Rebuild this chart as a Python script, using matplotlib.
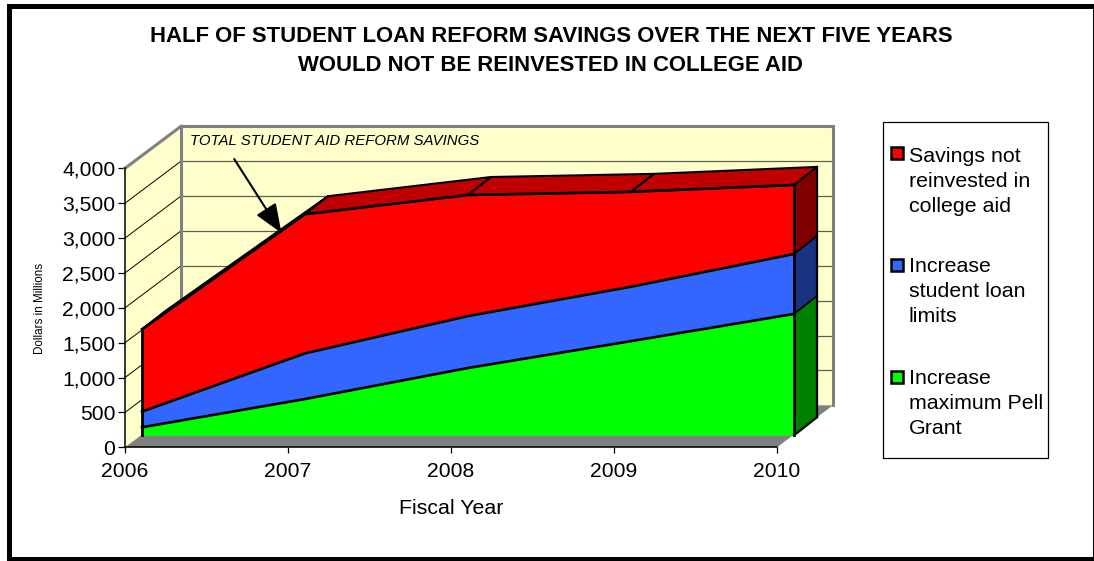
import numpy as np
import matplotlib
matplotlib.use("Agg")
import matplotlib.pyplot as plt
from matplotlib.patches import Polygon, Rectangle
from matplotlib.transforms import Affine2D

plt.rcParams["font.family"] = ["Liberation Sans", "DejaVu Sans"]

years = [2006, 2007, 2008, 2009, 2010]
pell_grant = [115, 520, 965, 1350, 1740]
loan_limits = [225, 655, 745, 780, 860]
not_reinvested = [1180, 1995, 1735, 1360, 990]
y_ticks = [0, 500, 1000, 1500, 2000, 2500, 3000, 3500, 4000]

title_lines = ["HALF OF STUDENT LOAN REFORM SAVINGS OVER THE NEXT FIVE YEARS",
               "WOULD NOT BE REINVESTED IN COLLEGE AID"]
legend_labels = [["Savings not", "reinvested in", "college aid"],
                 ["Increase", "student loan", "limits"],
                 ["Increase", "maximum Pell", "Grant"]]

front_colors = ["#00FF00", "#3366FF", "#FF0000"]
side_colors = ["#008000", "#1A3380", "#800000"]
top_color = "#C00000"
wall_color = "#FFFFCC"
grey = "#808080"

W, H = 1094, 561
fig = plt.figure(figsize=(W / 100, H / 100), dpi=100, facecolor="white")
ax = fig.add_axes([125 / W, (H - 447.3) / H, 652 / W, 279 / H])
ax.set_xlim(2006, 2010)
ax.set_ylim(0, 4000)
ax.patch.set_visible(False)

# top-down pixel coordinates for the page furniture
page = Affine2D().scale(1, -1).translate(0, H)


# the fake 3D look: everything behind the axis plane is shifted in pixels
def shifted(dx, dy):
    return ax.transData + Affine2D().translate(dx, dy)


wall = shifted(56, 42)
front = shifted(17, 12)
back = shifted(40, 30)


def to_pixels(x, y, trans):
    return trans.transform(np.column_stack([x, y]))


def poly(points, **kw):
    ax.add_patch(Polygon(points, transform=None, clip_on=False, **kw))


# walls and floor
poly(np.vstack([to_pixels([2006, 2006], [0, 4000], ax.transData),
                to_pixels([2006, 2006], [4000, 0], wall)]), fc=wall_color, ec="none", zorder=1)
poly(to_pixels([2006, 2010, 2010, 2006], [0, 0, 4000, 4000], wall), fc=wall_color, ec="none", zorder=1)
poly(np.vstack([to_pixels([2006, 2010], [0, 0], ax.transData),
                to_pixels([2010, 2006], [0, 0], wall)]), fc=grey, ec="none", zorder=1.5)

# gridlines across both walls
for v in y_ticks[1:-1]:
    ax.plot([2006, 2010], [v, v], transform=wall, color="#606050", lw=0.9, zorder=2, clip_on=False)
    side = to_pixels([2006, 2006], [v, v], ax.transData)
    side[1] = to_pixels([2006], [v], wall)[0]
    ax.plot(side[:, 0], side[:, 1], transform=None, color="black", lw=0.7, zorder=2, clip_on=False)

# grey outline of the walls
ax.plot([2006, 2006, 2010, 2010], [0, 4000, 4000, 0], transform=wall, color=grey, lw=2.2,
        zorder=2.2, clip_on=False, solid_joinstyle="miter")
outer = np.vstack([to_pixels([2006], [4000], ax.transData), to_pixels([2006], [4000], wall)])
ax.plot(outer[:, 0], outer[:, 1], transform=None, color=grey, lw=2.2, zorder=2.2, clip_on=False)

# stacked areas, lowest layer first
layers = [pell_grant, loan_limits, not_reinvested]
lower = np.zeros(len(years))
for values, fcolor, scolor in zip(layers, front_colors, side_colors):
    upper = lower + np.array(values)
    ax.fill_between(years, lower, upper, transform=front, color=fcolor, lw=0, zorder=3, clip_on=False)
    side_pts = np.vstack([to_pixels([2010, 2010], [lower[-1], upper[-1]], front),
                          to_pixels([2010, 2010], [upper[-1], lower[-1]], back)])
    poly(side_pts, fc=scolor, ec="none", zorder=3)
    ax.plot(years, upper, transform=front, color="black", lw=1.9, zorder=5, clip_on=False)
    edge = np.vstack([to_pixels([2010], [upper[-1]], front), to_pixels([2010], [upper[-1]], back)])
    ax.plot(edge[:, 0], edge[:, 1], transform=None, color="black", lw=1.3, zorder=5, clip_on=False)
    lower = upper

# sloped top of the red layer, one facet per year
for i in range(len(years) - 1):
    x0, x1 = years[i], years[i + 1]
    y0, y1 = lower[i], lower[i + 1]
    facet = np.vstack([to_pixels([x0, x1], [y0, y1], front), to_pixels([x1, x0], [y1, y0], back)])
    poly(facet, fc=top_color, ec="black", lw=1.5, zorder=4, joinstyle="miter")

# box edges of the solid
ax.plot([2006, 2006], [0, lower[0]], transform=front, color="black", lw=2.0, zorder=6, clip_on=False)
ax.plot([2010, 2010], [0, lower[-1]], transform=front, color="black", lw=2.0, zorder=6, clip_on=False)
ax.plot([2010, 2010], [0, lower[-1]], transform=back, color="black", lw=1.6, zorder=6, clip_on=False)
base = np.vstack([to_pixels([2010], [0], front), to_pixels([2010], [0], back)])
ax.plot(base[:, 0], base[:, 1], transform=None, color="black", lw=1.6, zorder=6, clip_on=False)

# axes
for name in ("top", "right"):
    ax.spines[name].set_visible(False)
for name in ("left", "bottom"):
    ax.spines[name].set_linewidth(1.1)
    ax.spines[name].set_zorder(7)
ax.set_xticks(years)
ax.set_yticks(y_ticks)
ax.set_yticklabels([f"{v:,}" for v in y_ticks])
ax.tick_params(axis="both", width=0.9, labelsize=15.2)
ax.tick_params(axis="y", length=5, pad=2)
ax.tick_params(axis="x", length=4.3, pad=6)

fig.text(40, 308, "Dollars in Millions", transform=page, fontsize=8.4, rotation=90, ha="center", va="center")
fig.text(451, 508, "Fiscal Year", transform=page, fontsize=15.4, ha="center", va="center")

ax.text(190, 141, "TOTAL STUDENT AID REFORM SAVINGS", transform=page, fontsize=10.8, style="italic",
        va="center", zorder=8)
ax.annotate("", xy=(2006.96, 3072), xytext=(2006.67, 4133), xycoords="data", textcoords="data",
            annotation_clip=False, zorder=8,
            arrowprops=dict(arrowstyle="-|>,head_length=1.05,head_width=0.42", color="black", lw=1.5,
                            shrinkA=0, shrinkB=0, mutation_scale=17))

# title
for line, y in zip(title_lines, (42.5, 71)):
    fig.text(551, y, line, transform=page, fontsize=15.9, fontweight="bold", ha="center", va="baseline")

# legend box
fig.add_artist(Rectangle((883, 122), 165, 336, transform=page, fc="white", ec="black", lw=0.9))
for lines, y_swatch, y_text, color in zip(legend_labels, (153, 265, 377), (162, 272, 384), front_colors[::-1]):
    fig.add_artist(Rectangle((891, y_swatch - 6), 12, 12, transform=page, fc=color, ec="black", lw=1.8))
    for k, line in enumerate(lines):
        fig.text(909, y_text + k * 24.8, line, transform=page, fontsize=15.4, va="baseline")

# page border
fig.add_artist(Rectangle((8.5, 5.5), 1086.5, 553, transform=page, fc="none", ec="black", lw=3.6, zorder=10))

fig.savefig("out.png", dpi=100)
